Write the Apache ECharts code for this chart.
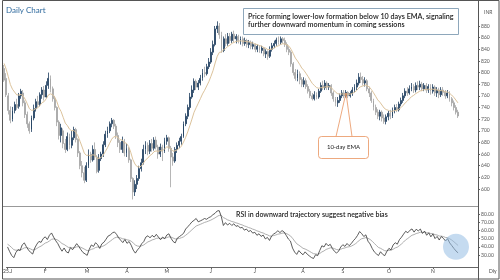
<!DOCTYPE html>
<html><head><meta charset="utf-8">
<script src="https://cdn.jsdelivr.net/npm/echarts@6/dist/echarts.min.js"></script>
<style>html,body{margin:0;padding:0;background:#fff;}#c{width:500px;height:280px;}</style>
</head><body><div id="c"></div>
<script>
// ---- data ----
const monthLabels = ['25.J','F','M','A','M','J','J','A','S','O','N'];
const monthStarts = [0,18,38,57,76,97,118,141,160,182,203];
const priceTicks = [600,620,640,660,680,700,720,740,760,780,800,820,840,860,880];
const rsiTicks = [30,40,50,60,70,80];
const lastPrice = 725.35;
const emaSeed = 822;          // EMA level at the chart's left edge
const rsiPrevClose = 807;     // close before the first candle
const rsiSeedGain = 5, rsiSeedLoss = 6, rsiMaSeed = 44;
const totalSlots = 225;

const opens = [807,790,760,735,720,735,745,742,760,765,748,728,712,702,722,738,750,745,
762,770,758,778,790,772,755,740,715,692,700,678,668,690,675,688,702,685,662,640,
628,615,640,660,650,668,655,632,652,660,676,694,700,712,718,708,692,680,668,
682,662,670,650,618,595,608,618,635,645,668,675,665,678,670,684,672,660,672,
665,682,688,670,655,648,668,675,682,690,712,725,740,758,770,785,775,782,790,800,798,
810,818,835,848,875,880,865,838,858,850,862,855,866,858,862,855,858,850,855,848,852,
845,848,840,845,838,842,832,836,828,840,846,850,856,852,858,855,848,840,835,815,800,790,798,
788,780,786,776,768,760,755,762,758,768,778,774,782,775,778,765,755,748,752,
760,765,760,766,760,764,770,775,782,792,788,782,786,772,765,752,740,732,725,732,722,716,
724,730,725,735,740,736,746,752,760,768,765,772,776,770,778,775,780,772,778,770,776,
768,775,765,770,762,770,766,760,765,755,748,740,732];
const closes = [787,762,735,718,735,745,740,760,768,748,728,712,700,722,738,750,745,762,
770,758,778,790,772,755,740,715,692,705,678,668,690,675,688,702,685,662,640,628,
615,640,660,650,668,655,630,652,660,676,694,700,712,718,708,692,680,668,682,
662,670,650,618,595,608,618,635,645,668,675,665,678,670,684,672,660,672,665,
682,688,670,655,648,668,675,682,690,712,725,740,758,770,785,775,782,790,800,798,810,
818,835,848,875,880,865,838,858,850,862,855,866,858,862,855,858,850,855,848,852,845,
848,840,845,838,842,832,836,828,840,846,850,856,852,858,855,848,840,835,815,800,790,798,788,
780,786,776,768,760,755,762,758,768,778,774,782,775,778,765,755,748,752,760,
765,760,766,760,764,770,775,782,792,788,782,786,772,765,752,740,732,725,732,722,716,724,
730,725,735,740,736,746,752,760,768,765,772,776,770,778,775,780,772,778,770,776,768,
775,765,770,762,770,766,760,765,755,748,740,732,725.35];
const highs = [813,799,765,742,741,750,755,765,772,770,752,733,716,726,745,755,760,766,
775,777,785,800,795,776,760,742,718,712,704,686,697,695,700,707,705,687,665,648,
638,646,668,664,675,680,658,660,664,682,700,707,716,722,720,712,697,684,690,
686,678,672,652,620,615,624,640,652,676,682,680,684,686,689,690,676,678,676,
688,693,690,674,662,672,680,688,695,716,730,745,765,778,790,788,787,796,806,810,815,
825,842,855,880,888,885,870,862,866,868,868,870,872,866,865,862,862,860,858,856,855,
853,850,848,847,846,844,840,838,845,851,855,860,862,862,861,860,852,845,838,818,806,805,802,
792,792,790,780,772,765,768,766,772,783,786,787,785,782,780,768,758,758,764,
770,770,770,768,768,775,780,788,799,800,794,792,789,776,768,755,745,737,736,735,728,728,
734,736,740,745,746,750,757,765,773,775,778,782,780,783,785,786,784,782,782,780,780,
780,778,775,774,775,775,770,770,768,758,752,744,736];
const lows = [784,758,728,713,716,730,736,738,755,742,722,705,695,698,718,733,740,742,
755,752,756,772,766,750,735,708,685,680,670,662,665,668,670,684,680,655,634,620,
610,612,636,645,647,650,627,628,648,655,672,688,696,706,703,686,672,662,662,
656,655,645,612,582,588,600,614,630,642,660,658,660,664,666,668,652,655,648,
662,676,664,603,640,645,662,670,676,688,708,720,736,755,765,770,770,778,786,792,795,
806,815,830,845,868,858,834,835,845,846,850,851,852,850,850,848,845,846,843,842,840,
840,835,835,834,833,828,825,822,825,836,842,846,848,848,850,844,835,830,810,795,786,785,780,
775,775,772,764,756,752,752,754,755,765,770,770,770,770,760,750,742,741,748,
756,756,757,756,757,760,766,770,778,782,778,776,768,758,748,735,727,720,718,716,712,711,
718,720,722,730,732,733,742,748,756,760,762,768,765,766,770,770,768,768,765,765,762,
764,760,758,756,758,760,755,756,750,742,735,728,722];

// ---- derived indicators ----
const cats = Array.from({length: totalSlots}, (_, i) => i);
const candleData = opens.map((o, i) => [o, closes[i], lows[i], highs[i]]);
const kE = 2 / 11; let e = emaSeed;
const ema = closes.map(c => { e = e + kE * (c - e); return +e.toFixed(2); });
let ag = rsiSeedGain, al = rsiSeedLoss, prev = rsiPrevClose;
const rsi = closes.map(c => { const d = c - prev; prev = c;
  ag = (ag * 13 + Math.max(d, 0)) / 14; al = (al * 13 + Math.max(-d, 0)) / 14;
  return +(100 - 100 / (1 + ag / al)).toFixed(2); });
const kM = 2 / 10; let m = rsiMaSeed;
const rsiMa = rsi.map(r => { m = m + kM * (r - m); return +m.toFixed(2); });

const labelMap = {}; monthStarts.forEach((s, i) => labelMap[s] = monthLabels[i]);
const FONT = 'Lato';
const GL = 3, GR = 22;

const chart = echarts.init(document.getElementById('c'));
chart.setOption({
  animation: false,
  backgroundColor: '#fff',
  grid: [
    {left: GL, right: GR, top: 3, height: 203},
    {left: GL, right: GR, top: 206, height: 61}
  ],
  xAxis: [
    {type: 'category', gridIndex: 0, data: cats, boundaryGap: true,
     axisLine: {show: false}, axisTick: {show: false}, axisLabel: {show: false}, splitLine: {show: false}},
    {type: 'category', gridIndex: 1, data: cats, boundaryGap: true,
     axisLine: {show: true, lineStyle: {color: '#666', width: 1}},
     axisTick: {show: true, alignWithLabel: true, length: 2, lineStyle: {color: '#666'},
       interval: (idx) => labelMap[idx] !== undefined},
     axisLabel: {show: true, fontSize: 5, color: '#444', margin: 2, fontFamily: FONT,
       interval: (idx) => labelMap[idx] !== undefined, formatter: (v) => labelMap[v] || ''},
     splitLine: {show: false}}
  ],
  yAxis: [
    {type: 'value', gridIndex: 0, position: 'right', min: 570.8, max: 919.5, scale: true,
     axisLine: {show: false},
     axisTick: {show: true, length: 2, inside: false, lineStyle: {color: '#666'}, customValues: priceTicks},
     axisLabel: {show: true, fontSize: 5, color: '#555', margin: 3, fontFamily: FONT, customValues: priceTicks},
     splitLine: {show: false}},
    {type: 'value', gridIndex: 1, position: 'right', min: 15.4, max: 89.8,
     axisLine: {show: false},
     axisTick: {show: true, length: 2, lineStyle: {color: '#666'}, customValues: rsiTicks},
     axisLabel: {show: true, fontSize: 5, color: '#555', margin: 3, fontFamily: FONT, customValues: rsiTicks,
       formatter: (v) => v.toFixed(2)},
     splitLine: {show: false}}
  ],
  series: [
    {type: 'candlestick', xAxisIndex: 0, yAxisIndex: 0, data: candleData, barWidth: 1.4,
     itemStyle: {color: '#1f3f60', color0: '#a3a3a3', borderColor: '#1f3f60', borderColor0: '#a3a3a3', borderWidth: 0.8},
     markLine: {silent: true, symbol: 'none', animation: false,
       data: [{yAxis: lastPrice}],
       lineStyle: {width: 0, opacity: 0},
       label: {show: true, position: 'end', distance: 1, formatter: () => lastPrice.toFixed(2),
         backgroundColor: '#000', color: '#fff', fontSize: 5.5, padding: [1.5, 1.5], fontFamily: FONT}}},
    {type: 'line', xAxisIndex: 0, yAxisIndex: 0, data: ema, symbol: 'none',
     lineStyle: {color: '#dcc39c', width: 1}},
    {type: 'line', xAxisIndex: 1, yAxisIndex: 1, data: rsiMa, symbol: 'none',
     lineStyle: {color: '#9a9a9a', width: 0.8}},
    {type: 'line', xAxisIndex: 1, yAxisIndex: 1, data: rsi, symbol: 'none',
     lineStyle: {color: '#333', width: 0.8},
     markPoint: {silent: true, data: [{coord: [214, 40], symbol: 'circle', symbolSize: 26,
       itemStyle: {color: 'rgba(150,190,228,0.55)'}, label: {show: false}}]}}
  ],
  graphic: [
    {type: 'rect', shape: {x: 2.5, y: 0.5, width: 496.5, height: 278.5}, style: {fill: 'none', stroke: '#555', lineWidth: 1}, z: 100},
    {type: 'line', shape: {x1: 3, y1: 206.5, x2: 478, y2: 206.5}, style: {stroke: '#999', lineWidth: 1}, z: 100},
    {type: 'line', shape: {x1: 478.5, y1: 0, x2: 478.5, y2: 280}, style: {stroke: '#555', lineWidth: 1}, z: 100},
    {type: 'text', x: 6, y: 6, style: {text: 'Daily Chart', fontSize: 8, fontFamily: FONT, fill: '#2f6a9e'}},
    {type: 'text', x: 484, y: 10, style: {text: 'INR', fontSize: 5, fontFamily: FONT, fill: '#555'}},
    {type: 'text', x: 489, y: 269, style: {text: 'Dly', fontSize: 5, fontFamily: FONT, fill: '#444'}},
    {type: 'rect', shape: {x: 243.5, y: 8.5, width: 215, height: 26}, style: {fill: '#fff', stroke: '#8ea7bb', lineWidth: 1}, z: 50},
    {type: 'text', x: 248, y: 12, z: 51, style: {text: 'Price forming lower-low formation below 10 days EMA, signaling\nfurther downward momentum in coming sessions',
      fontSize: 7.2, fontWeight: 600, lineHeight: 8.5, fontFamily: FONT, fill: '#1a1a1a'}},
    {type: 'polyline', shape: {points: [[336, 136.5], [346, 93], [352, 136.5]]}, style: {fill: 'none', stroke: '#e8935e', lineWidth: 0.8}, z: 50},
    {type: 'rect', shape: {x: 318.5, y: 136.5, width: 50, height: 22, r: 3}, style: {fill: '#fff', stroke: '#e8935e', lineWidth: 0.8}, z: 51},
    {type: 'text', x: 343.5, y: 147.5, z: 52, style: {text: '10-day EMA', fontSize: 6, fontFamily: FONT, fill: '#222', align: 'center', verticalAlign: 'middle'}},
    {type: 'text', x: 236, y: 211, z: 52, style: {text: 'RSI in downward trajectory suggest negative bias', fontSize: 7, fontWeight: 600, fontFamily: FONT, fill: '#1a1a1a'}}
  ]
});
</script>
</body></html>
